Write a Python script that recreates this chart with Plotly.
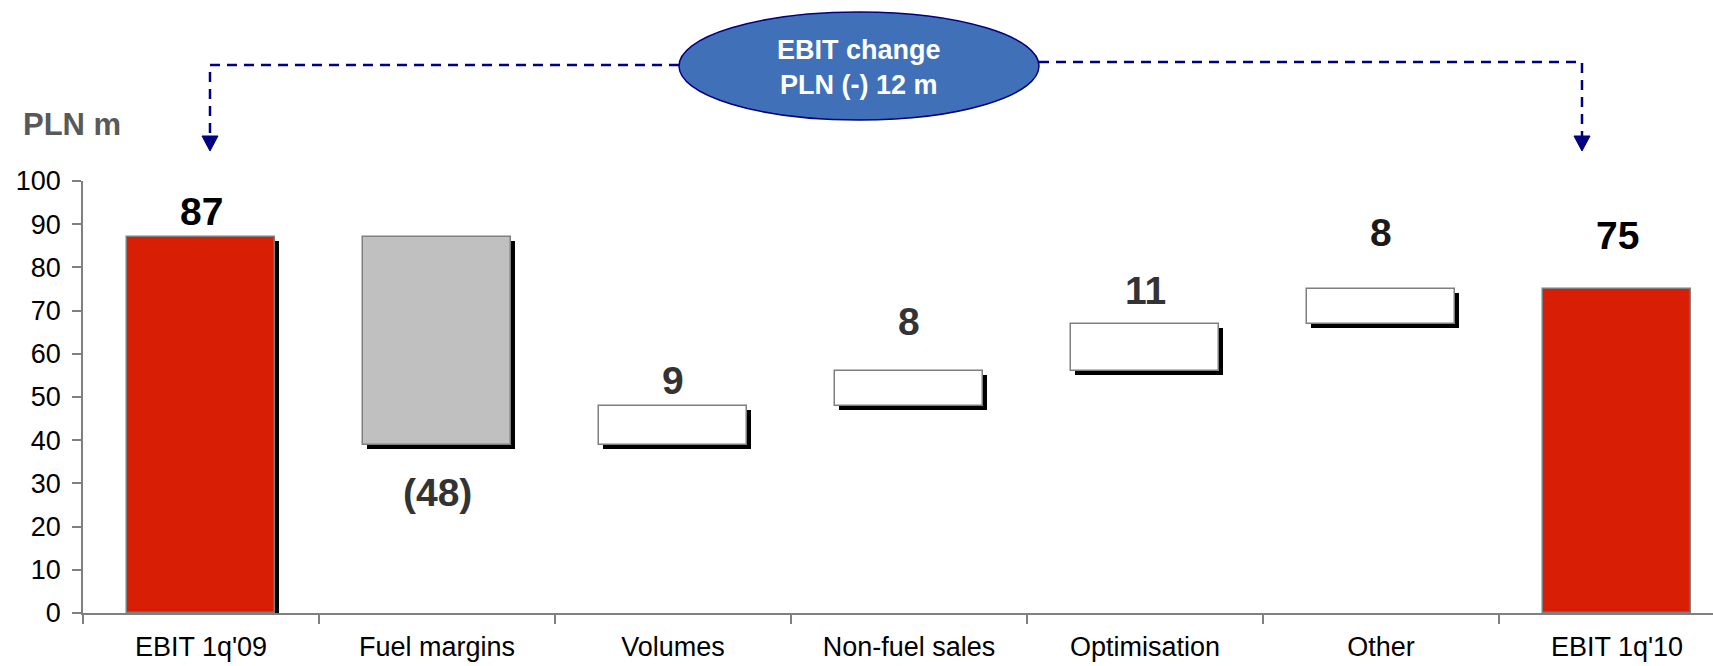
import plotly.graph_objects as go

# ---- data -------------------------------------------------------------
categories = ["EBIT 1q'09", "Fuel margins", "Volumes", "Non-fuel sales",
              "Optimisation", "Other", "EBIT 1q'10"]
start_value = 87                      # EBIT 1q'09, PLN m
changes = [-48, 9, 8, 11, 8]          # bridge components, PLN m
end_value = 75                        # EBIT 1q'10, PLN m
y_ticks = [0, 10, 20, 30, 40, 50, 60, 70, 80, 90, 100]

# ---- bridge geometry derived from the data -----------------------------
bases, heights, values = [0], [start_value], [start_value]
running = start_value
for c in changes:
    lo = running + min(c, 0)
    bases.append(lo)
    heights.append(abs(c))
    values.append(c)
    running += c
bases.append(0)
heights.append(end_value)
values.append(end_value)
ebit_change = start_value - end_value

# ---- styling -----------------------------------------------------------
FONT = "Liberation Sans, Arial, sans-serif"
RED, GREY, NAVY = "#D81E05", "#C0C0C0", "#000080"
bar_colors = [RED, GREY, "white", "white", "white", "white", RED]
label_colors = ["#000000", "#333333", "#333333", "#333333", "#333333", "#1a1a1a", "#000000"]
label_shift = [26, -48, 25, 50, 33, 57, 54]   # px from the bar end
BAR_W = 0.627

W, H = 1713, 666
PL, PT, PW, PH = 83, 181, 1630, 432
PX_PER_UNIT = PH / 100.0
CAT_PX = 236.0


def paper_x(px):
    return (px - PL) / PW


def paper_y(py):
    return (PT + PH - py) / PH


# drop shadow: same bars nudged right/down by a few pixels
dx = 4 / CAT_PX
dy = 4 / PX_PER_UNIT
shadow_y = [h if i < len(categories) - 1 else None for i, h in enumerate(heights)]
shadow_base = [b - dy for b in bases]

fig = go.Figure()
fig.add_trace(go.Bar(
    x=categories, y=shadow_y, base=shadow_base,
    width=BAR_W, offset=-BAR_W / 2 + dx,
    marker=dict(color="black", line=dict(width=0)),
    hoverinfo="skip", showlegend=False,
))
fig.add_trace(go.Bar(
    x=categories, y=heights, base=bases,
    width=BAR_W, offset=-BAR_W / 2,
    marker=dict(color=bar_colors, line=dict(color="#7F7F7F", width=1.5)),
    showlegend=False,
))

# value labels
annotations = []
for i, (cat, v) in enumerate(zip(categories, values)):
    neg = v < 0
    txt = f"({abs(v)})" if neg else f"{v}"
    anchor_y = bases[i] if neg else bases[i] + heights[i]
    annotations.append(dict(
        x=cat, y=anchor_y, xref="x", yref="y", text=f"<b>{txt}</b>",
        showarrow=False, yshift=label_shift[i], yanchor="middle",
        font=dict(family=FONT, size=39, color=label_colors[i]),
    ))

# unit label
annotations.append(dict(
    x=paper_x(21), y=paper_y(124), xref="paper", yref="paper",
    xanchor="left", yanchor="middle", showarrow=False,
    text="<b>PLN m</b>", font=dict(family=FONT, size=31, color="#595959"),
))

# EBIT change bubble text
annotations.append(dict(
    x=paper_x(859), y=paper_y(68), xref="paper", yref="paper",
    xanchor="center", yanchor="middle", showarrow=False,
    text=f"<b>EBIT change<br>PLN (-) {ebit_change} m</b>",
    font=dict(family=FONT, size=27, color="white"),
))

shapes = []
# dashed connectors from the bubble to the two EBIT bars
for path in [
    [(679, 65), (210, 65), (210, 136)],
    [(1039, 62), (1582, 62), (1582, 136)],
]:
    d = "M " + " L ".join(f"{paper_x(x):.5f},{paper_y(y):.5f}" for x, y in path)
    shapes.append(dict(type="path", path=d, xref="paper", yref="paper",
                       line=dict(color=NAVY, width=2.5, dash="10px,7px")))
for ax in (210, 1582):
    tri = (f"M {paper_x(ax - 8):.5f},{paper_y(136):.5f} "
           f"L {paper_x(ax + 8):.5f},{paper_y(136):.5f} "
           f"L {paper_x(ax):.5f},{paper_y(151):.5f} Z")
    shapes.append(dict(type="path", path=tri, xref="paper", yref="paper",
                       fillcolor=NAVY, line=dict(color=NAVY, width=1)))
# bubble
shapes.append(dict(type="circle", xref="paper", yref="paper",
                   x0=paper_x(679), x1=paper_x(1039),
                   y0=paper_y(120), y1=paper_y(12),
                   fillcolor="#4071B8", line=dict(color=NAVY, width=1.5),
                   layer="above"))

fig.update_layout(
    width=W, height=H,
    margin=dict(l=PL, r=W - PL - PW, t=PT, b=H - PT - PH, pad=0,
                autoexpand=False),
    paper_bgcolor="white", plot_bgcolor="white",
    barmode="overlay", bargap=0,
    font=dict(family=FONT, color="black"),
    annotations=annotations, shapes=shapes,
    hovermode=False,
)
fig.update_xaxes(
    type="category", range=[-0.5, (W - PL) / CAT_PX - 0.5],
    showline=True, linecolor="#808080", linewidth=2,
    ticks="outside", tickson="boundaries", ticklen=9, tickwidth=1.5,
    tickcolor="#808080", showgrid=False, zeroline=False,
    tickfont=dict(family=FONT, size=27, color="black"),
    ticklabelstandoff=9, automargin=False,
)
fig.update_yaxes(
    range=[0, 100], tickvals=y_ticks,
    showline=True, linecolor="#808080", linewidth=1.5,
    ticks="outside", ticklen=9, tickwidth=1.5, tickcolor="#808080",
    showgrid=False, zeroline=False,
    tickfont=dict(family=FONT, size=27, color="black"),
    ticklabelstandoff=6, automargin=False,
)

fig.write_html("out.html")
